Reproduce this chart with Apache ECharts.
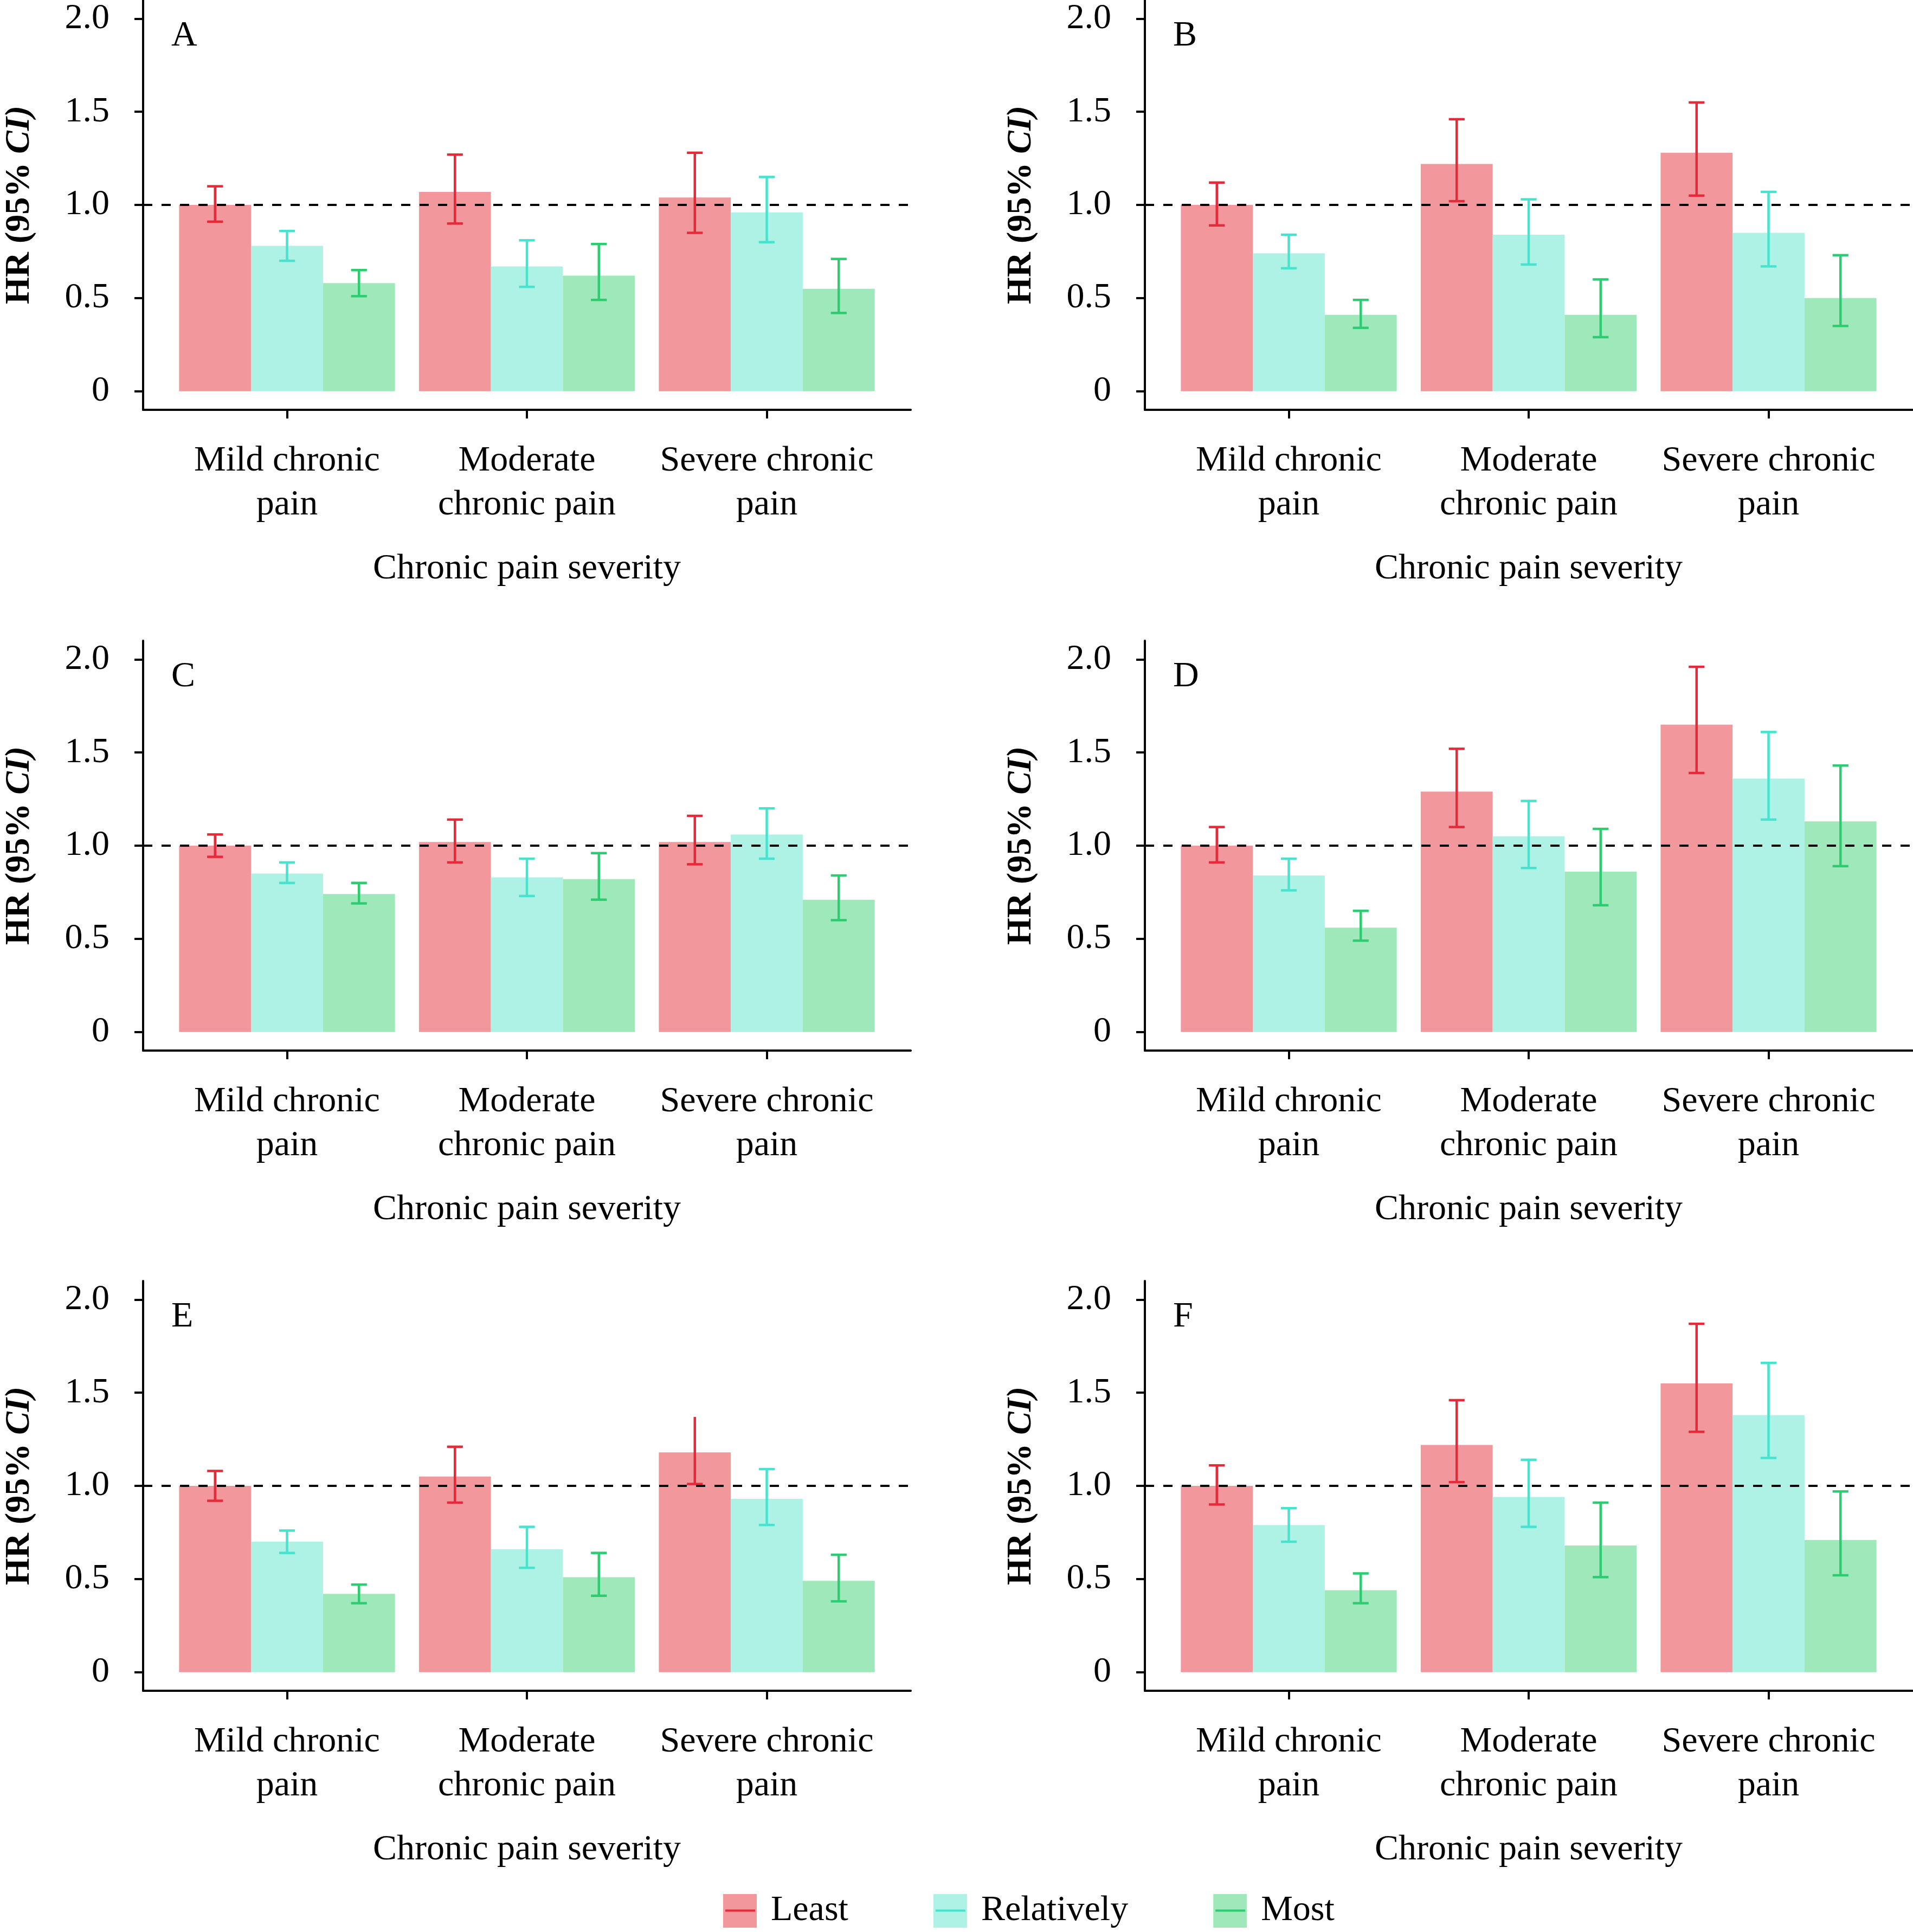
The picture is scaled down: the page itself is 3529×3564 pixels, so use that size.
<!DOCTYPE html>
<html>
<head>
<meta charset="utf-8">
<script src="https://cdn.jsdelivr.net/npm/echarts@6/dist/echarts.min.js"></script>
<style>
html,body{margin:0;padding:0;background:#fff;}
#chart{width:3529px;height:3564px;}
</style>
</head>
<body>
<div id="chart"></div>
<script>
// ---------------- DATA ----------------
const categories = ['Mild chronic\npain', 'Moderate\nchronic pain', 'Severe chronic\npain'];
const groups = ['Least', 'Relatively', 'Most'];
const panelLabels = ['A', 'B', 'C', 'D', 'E', 'F'];
const yTicks = [0, 0.5, 1, 1.5, 2];
const yTickLabels = ['0', '0.5', '1.0', '1.5', '2.0'];
const refLine = 1;

// rows: Least, Relatively, Most ; columns: Mild, Moderate, Severe
const A_hr = [[1.00, 1.07, 1.04], [0.78, 0.67, 0.96], [0.58, 0.62, 0.55]];
const A_lo = [[0.91, 0.90, 0.85], [0.70, 0.56, 0.80], [0.51, 0.49, 0.42]];
const A_hi = [[1.10, 1.27, 1.28], [0.86, 0.81, 1.15], [0.65, 0.79, 0.71]];

const B_hr = [[1.00, 1.22, 1.28], [0.74, 0.84, 0.85], [0.41, 0.41, 0.50]];
const B_lo = [[0.89, 1.02, 1.05], [0.66, 0.68, 0.67], [0.34, 0.29, 0.35]];
const B_hi = [[1.12, 1.46, 1.55], [0.84, 1.03, 1.07], [0.49, 0.60, 0.73]];

const C_hr = [[1.00, 1.02, 1.02], [0.85, 0.83, 1.06], [0.74, 0.82, 0.71]];
const C_lo = [[0.94, 0.91, 0.90], [0.80, 0.73, 0.93], [0.69, 0.71, 0.60]];
const C_hi = [[1.06, 1.14, 1.16], [0.91, 0.93, 1.20], [0.80, 0.96, 0.84]];

const D_hr = [[1.00, 1.29, 1.65], [0.84, 1.05, 1.36], [0.56, 0.86, 1.13]];
const D_lo = [[0.91, 1.10, 1.39], [0.76, 0.88, 1.14], [0.49, 0.68, 0.89]];
const D_hi = [[1.10, 1.52, 1.96], [0.93, 1.24, 1.61], [0.65, 1.09, 1.43]];

const E_hr = [[1.00, 1.05, 1.18], [0.70, 0.66, 0.93], [0.42, 0.51, 0.49]];
const E_lo = [[0.92, 0.91, 1.01], [0.64, 0.56, 0.79], [0.37, 0.41, 0.38]];
const E_hi = [[1.08, 1.21, 1.37], [0.76, 0.78, 1.09], [0.47, 0.64, 0.63]];

const F_hr = [[1.00, 1.22, 1.55], [0.79, 0.94, 1.38], [0.44, 0.68, 0.71]];
const F_lo = [[0.90, 1.02, 1.29], [0.70, 0.78, 1.15], [0.37, 0.51, 0.52]];
const F_hi = [[1.11, 1.46, 1.87], [0.88, 1.14, 1.66], [0.53, 0.91, 0.97]];

// error bars drawn without an upper cap: [panel, group, category]
const noUpperCap = [[4, 0, 2]];

// ---------------- STYLE / LAYOUT ----------------
const panelHR = [A_hr, B_hr, C_hr, D_hr, E_hr, F_hr];
const panelLo = [A_lo, B_lo, C_lo, D_lo, E_lo, F_lo];
const panelHi = [A_hi, B_hi, C_hi, D_hi, E_hi, F_hi];

const FONT = '"Liberation Serif", "Times New Roman", serif';
const barColors = ['#F2979C', '#AEF2E6', '#9FE8BA'];
const errColors = ['#E62A3A', '#48E3CF', '#2ECC71'];
const gridLefts = [264, 2112];
const gridTops = [0, 1182, 2363];
const gridW = 1416, gridH = 756;
const dodge = 0.9;
const barW = dodge / groups.length;
const capHalf = 0.033;

const grids = [], xAxes = [], yAxes = [], series = [], graphics = [];

for (let p = 0; p < 6; p++) {
  const col = p % 2, row = Math.floor(p / 2);
  grids.push({left: gridLefts[col], top: gridTops[row], width: gridW, height: gridH, containLabel: false});
  xAxes.push({
    gridIndex: p, type: 'value', min: 0.4, max: 3.6,
    axisLine: {show: true, onZero: false, lineStyle: {color: '#000', width: 4}},
    axisTick: {show: true, customValues: [1, 2, 3], length: 16, lineStyle: {color: '#000', width: 4}},
    axisLabel: {
      customValues: [1, 2, 3],
      formatter: v => categories[Math.round(v) - 1],
      fontFamily: FONT, fontSize: 66, lineHeight: 81, color: '#000', margin: 54
    },
    splitLine: {show: false},
    name: 'Chronic pain severity', nameLocation: 'middle', nameGap: 261,
    nameTextStyle: {fontFamily: FONT, fontSize: 66, color: '#000'}
  });
  yAxes.push({
    gridIndex: p, type: 'value', min: -0.1, max: 2.1,
    axisLine: {show: true, onZero: false, lineStyle: {color: '#000', width: 4}},
    axisTick: {show: true, customValues: yTicks, length: 16, lineStyle: {color: '#000', width: 4}},
    axisLabel: {
      customValues: yTicks,
      formatter: v => yTickLabels[yTicks.indexOf(Math.round(v * 10) / 10)],
      fontFamily: FONT, fontSize: 66, color: '#000', margin: 62,
      verticalAlign: 'middle',
      padding: [12, 0, 0, 0]
    },
    splitLine: {show: false},
    name: '{b|HR (95% }{i|CI)}', nameLocation: 'middle', nameGap: 196, nameRotate: 90,
    nameTextStyle: {
      rich: {
        b: {fontFamily: FONT, fontSize: 64, fontWeight: 'bold', color: '#000'},
        i: {fontFamily: FONT, fontSize: 64, fontWeight: 'bold', fontStyle: 'italic', color: '#000'}
      }
    }
  });

  for (let g = 0; g < groups.length; g++) {
    const offset = (g - (groups.length - 1) / 2) * barW;
    const barData = categories.map((c, k) => [k + 1 + offset, panelHR[p][g][k]]);
    const errData = categories.map((c, k) => {
      const noCap = noUpperCap.some(e => e[0] === p && e[1] === g && e[2] === k) ? 1 : 0;
      return [k + 1 + offset, panelLo[p][g][k], panelHi[p][g][k], noCap];
    });
    series.push({
      type: 'custom', name: groups[g], xAxisIndex: p, yAxisIndex: p, z: 2,
      itemStyle: {color: barColors[g]},
      data: barData, silent: true,
      renderItem: function (params, api) {
        const x = api.value(0);
        const p0 = api.coord([x - barW / 2, 0]);
        const p1 = api.coord([x + barW / 2, api.value(1)]);
        return {
          type: 'rect',
          shape: {x: p0[0], y: p1[1], width: p1[0] - p0[0], height: p0[1] - p1[1]},
          style: {fill: barColors[g]}
        };
      }
    });
    series.push({
      type: 'custom', name: groups[g], xAxisIndex: p, yAxisIndex: p, z: 4,
      itemStyle: {color: errColors[g]},
      data: errData, silent: true,
      renderItem: function (params, api) {
        const x = api.value(0);
        const lo = api.coord([x, api.value(1)]);
        const hi = api.coord([x, api.value(2)]);
        const loL = api.coord([x - capHalf, api.value(1)]);
        const loR = api.coord([x + capHalf, api.value(1)]);
        const hiL = api.coord([x - capHalf, api.value(2)]);
        const hiR = api.coord([x + capHalf, api.value(2)]);
        const st = {stroke: errColors[g], lineWidth: 4.5, fill: null};
        const children = [
          {type: 'line', shape: {x1: lo[0], y1: lo[1], x2: hi[0], y2: hi[1]}, style: st},
          {type: 'line', shape: {x1: loL[0], y1: loL[1], x2: loR[0], y2: loR[1]}, style: st}
        ];
        if (!api.value(3)) {
          children.push({type: 'line', shape: {x1: hiL[0], y1: hiL[1], x2: hiR[0], y2: hiR[1]}, style: st});
        }
        return {type: 'group', children: children};
      }
    });
  }
  // reference line at HR = 1
  series.push({
    type: 'line', xAxisIndex: p, yAxisIndex: p, z: 3, data: [], silent: true,
    markLine: {
      silent: true, symbol: ['none', 'none'], label: {show: false},
      lineStyle: {color: '#000', width: 4, type: [17, 17]},
      emphasis: {disabled: true},
      data: [{yAxis: refLine}]
    }
  });

  graphics.push({
    type: 'text', x: gridLefts[col] + 52, y: gridTops[row] + 67,
    style: {text: panelLabels[p], font: '66px ' + FONT, fill: '#000', verticalAlign: 'middle', align: 'left'}
  });
}

const legendBase = {
  orient: 'horizontal', left: 1329, top: 3487,
  itemWidth: 62, itemHeight: 62, itemGap: 157,
  selectedMode: false,
  textStyle: {fontFamily: FONT, fontSize: 66, color: '#000', padding: [0, 0, 0, 21]}
};

const option = {
  backgroundColor: '#fff',
  animation: false,
  grid: grids, xAxis: xAxes, yAxis: yAxes, series: series,
  graphic: graphics,
  legend: [
    Object.assign({}, legendBase, {
      icon: 'rect',
      data: groups.map((n, i) => ({name: n, itemStyle: {color: barColors[i], borderWidth: 0}}))
    }),
    Object.assign({}, legendBase, {
      icon: 'path://M0,0M62,62M4,28.5L59,28.5L59,32.5L4,32.5Z',
      textStyle: Object.assign({}, legendBase.textStyle, {color: 'rgba(0,0,0,0)'}),
      data: groups.map((n, i) => ({name: n, itemStyle: {color: errColors[i], borderWidth: 0}}))
    })
  ]
};

const chart = echarts.init(document.getElementById('chart'), null, {renderer: 'canvas', width: 3529, height: 3564});
chart.setOption(option);
</script>
</body>
</html>
